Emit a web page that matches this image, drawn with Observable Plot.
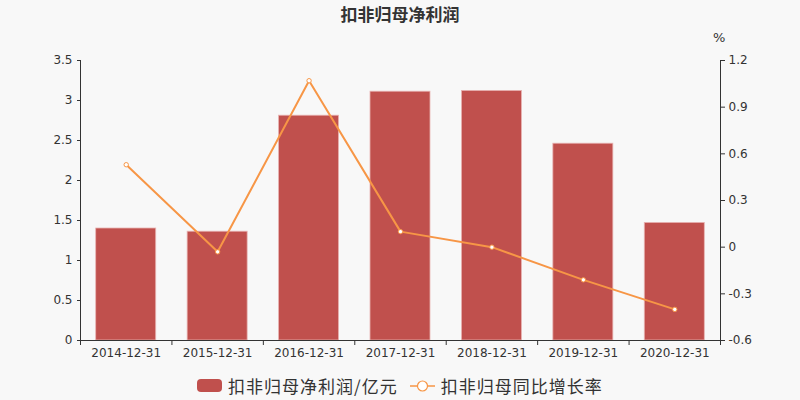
<!DOCTYPE html>
<html><head><meta charset="utf-8">
<script src="https://cdn.jsdelivr.net/npm/d3@7"></script>
<script src="https://cdn.jsdelivr.net/npm/@observablehq/plot@0.6"></script>
<style>
body{margin:0;background:#f8f8f8;}
#wrap{position:relative;width:800px;height:400px;font-family:"DejaVu Sans","Noto Sans CJK SC",sans-serif;color:#333;}
#title{position:absolute;top:1px;left:0;width:800px;text-align:center;font-size:17px;font-weight:bold;font-family:"Noto Sans CJK SC",sans-serif;color:#333;}
#unit{position:absolute;top:30px;left:713px;font-size:13px;color:#333;}
#legend{position:absolute;top:373px;left:197px;display:flex;align-items:center;font-size:17px;font-family:"Noto Sans CJK SC",sans-serif;color:#333;}
.sw{width:25px;height:13px;border-radius:4px;background:#c0504d;margin-right:6px;}
.item{display:flex;align-items:center;margin-right:12px;letter-spacing:1px;}
#chart{position:absolute;top:0;left:0;}
</style></head>
<body>
<div id="wrap">
<div id="chart"></div>
<div id="title">扣非归母净利润</div>
<div id="unit">%</div>
<div id="legend">
  <div class="item"><div class="sw"></div><span>扣非归母净利润/亿元</span></div>
  <div class="item"><svg width="25" height="14" style="margin-right:6px"><line x1="0" y1="7" x2="25" y2="7" stroke="#f79646" stroke-width="1.5"/><circle cx="12.5" cy="7" r="5" fill="#fff" stroke="#f79646" stroke-width="1.2"/></svg><span>扣非归母同比增长率</span></div>
</div>
</div>
<script>
const categories = ["2014-12-31","2015-12-31","2016-12-31","2017-12-31","2018-12-31","2019-12-31","2020-12-31"];
const profit = [1.40, 1.36, 2.81, 3.11, 3.12, 2.46, 1.47];
const growth = [0.53, -0.03, 1.07, 0.10, 0.00, -0.21, -0.40];
const leftTicks = [0, 0.5, 1, 1.5, 2, 2.5, 3, 3.5];
const rightTicks = [-0.6, -0.3, 0, 0.3, 0.6, 0.9, 1.2];

const L0 = 0, L1 = 3.5, R0 = -0.6, R1 = 1.2;
const toLeft = v => (v - R0) / (R1 - R0) * (L1 - L0) + L0;
const fromLeft = v => (v - L0) / (L1 - L0) * (R1 - R0) + R0;
const fmt = v => { const r = Math.round(v * 10) / 10; return (Object.is(r, -0) ? 0 : r).toString(); };

const data = categories.map((c, i) => ({c, i, profit: profit[i], growth: growth[i], g: toLeft(growth[i])}));
const bandW = 640 / categories.length;
const barW = 60;
const inset = (bandW - barW) / 2;

const plot = Plot.plot({
  width: 800, height: 400,
  marginTop: 60, marginBottom: 60, marginLeft: 80, marginRight: 80,
  style: {background: "transparent", fontFamily: "DejaVu Sans, Noto Sans CJK SC, sans-serif", fontSize: "12px", color: "#333"},
  x: {domain: [0, categories.length]},
  y: {domain: [L0, L1]},
  marks: [
    Plot.rectY(data, {x1: d => d.i, x2: d => d.i + 1, y: "profit", fill: "#c0504d", stroke: "#e8b3b2", strokeWidth: 0.8, insetLeft: inset, insetRight: inset}),
    Plot.line(data, {x: d => d.i + 0.5, y: "g", stroke: "#f79646", strokeWidth: 2}),
    Plot.dot(data, {x: d => d.i + 0.5, y: "g", r: 2.2, fill: "#fff", stroke: "#f79646", strokeWidth: 1}),
    Plot.ruleX([0], {stroke: "#333"}),
    Plot.ruleX([categories.length], {stroke: "#333"}),
    Plot.ruleY([0], {stroke: "#333"}),
    Plot.axisY(leftTicks, {anchor: "left", tickSize: 3, tickPadding: 5, tickFormat: d => String(d), label: null, fill: "#333", stroke: "#333"}),
    Plot.axisY(rightTicks.map(toLeft), {anchor: "right", tickSize: 4, tickPadding: 4, tickFormat: d => fmt(fromLeft(d)), label: null, fill: "#333", stroke: "#333"}),
    Plot.axisX(d3.range(0, categories.length + 1), {tickSize: 5, tickFormat: () => "", label: null, stroke: "#333"}),
    Plot.axisX(d3.range(0, categories.length).map(i => i + 0.5), {tickSize: 0, tickPadding: 8, tickFormat: d => categories[d - 0.5], label: null, fill: "#333"})
  ]
});
document.getElementById("chart").appendChild(plot);
</script>
</body></html>
